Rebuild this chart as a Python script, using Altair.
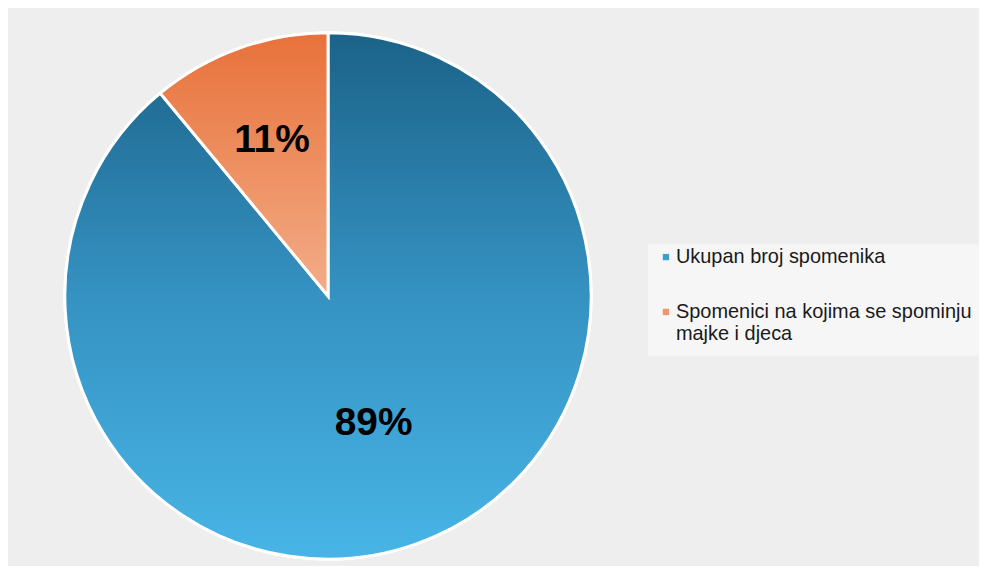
import math
import altair as alt
import pandas as pd

categories = ["Ukupan broj spomenika", "Spomenici na kojima se spominju majke i djeca"]
values = [89, 11]
labels = ["89%", "11%"]
legend_colors = ["#3a9fd3", "#f0956a"]

df = pd.DataFrame({"cat": categories, "value": values, "label": labels, "order": [0, 1]})

CX, CY, R = 321, 288, 264

base = alt.Chart(df).transform_window(
    cum="sum(value)", sort=[alt.SortField("order")], frame=[None, 0]
).transform_calculate(
    start="datum.cum - datum.value",
    mid="datum.cum - datum.value / 2",
)

theta_scale = alt.Scale(domain=[0, 100], range=[0, 2 * math.pi])

grad_blue = alt.LinearGradient(
    gradient="linear", x1=0, y1=0, x2=0, y2=1,
    stops=[alt.GradientStop(color="#1b6288", offset=0),
           alt.GradientStop(color="#3592c2", offset=0.5),
           alt.GradientStop(color="#48b5e6", offset=1)],
)
grad_orange = alt.LinearGradient(
    gradient="linear", x1=0, y1=0, x2=0, y2=1,
    stops=[alt.GradientStop(color="#e8713a", offset=0),
           alt.GradientStop(color="#f3ad88", offset=1)],
)

enc = dict(
    theta=alt.Theta("start:Q", scale=theta_scale),
    theta2="end:Q",
    x=alt.value(CX),
    y=alt.value(CY),
)

base2 = base.transform_calculate(end="datum.cum")

legend_box = base2.transform_filter("datum.order == 0").mark_rect(fill="#f6f6f6").encode(
    x=alt.value(642), x2=alt.value(974), y=alt.value(236), y2=alt.value(348)
)

flat = base2.mark_arc(radius=R, stroke="white", strokeWidth=3).encode(
    color=alt.Color(
        "cat:N",
        scale=alt.Scale(domain=categories, range=legend_colors),
        legend=alt.Legend(
            title=None,
            orient="none",
            legendX=650,
            legendY=239,
            symbolType="square",
            symbolSize=40,
            symbolStrokeWidth=0,
            labelFont="Liberation Sans",
            labelFontSize=20,
            labelColor="#1a1a1a",
            labelLimit=400,
            labelOffset=0,
            rowPadding=35,
            labelExpr="datum.label == 'Spomenici na kojima se spominju majke i djeca' ? ['Spomenici na kojima se spominju', 'majke i djeca'] : datum.label",
        ),
    ),
    **enc,
)

blue = base2.transform_filter("datum.order == 0").mark_arc(
    radius=R, fill=grad_blue, stroke="white", strokeWidth=3
).encode(**enc)

orange = base2.transform_filter("datum.order == 1").mark_arc(
    radius=R, fill=grad_orange, stroke="white", strokeWidth=3
).encode(**enc)

txt_enc = dict(
    theta=alt.Theta("mid:Q", scale=theta_scale),
    text="label:N",
    x=alt.value(CX),
    y=alt.value(CY),
)

t_blue = base.transform_filter("datum.order == 0").mark_text(
    radius=135, fontSize=39, fontWeight="bold", font="Liberation Sans", color="black"
).encode(**txt_enc)

t_orange = base.transform_filter("datum.order == 1").mark_text(
    radius=166, fontSize=39, fontWeight="bold", font="Liberation Sans", color="black"
).encode(**txt_enc)

chart = alt.layer(legend_box, flat, blue, orange, t_blue, t_orange).properties(
    width=974, height=558, padding=0, autosize="none"
).configure(background="#eeeeee").configure_view(stroke=None)

chart.save("out.html", embed_options={"renderer": "svg", "actions": False})
